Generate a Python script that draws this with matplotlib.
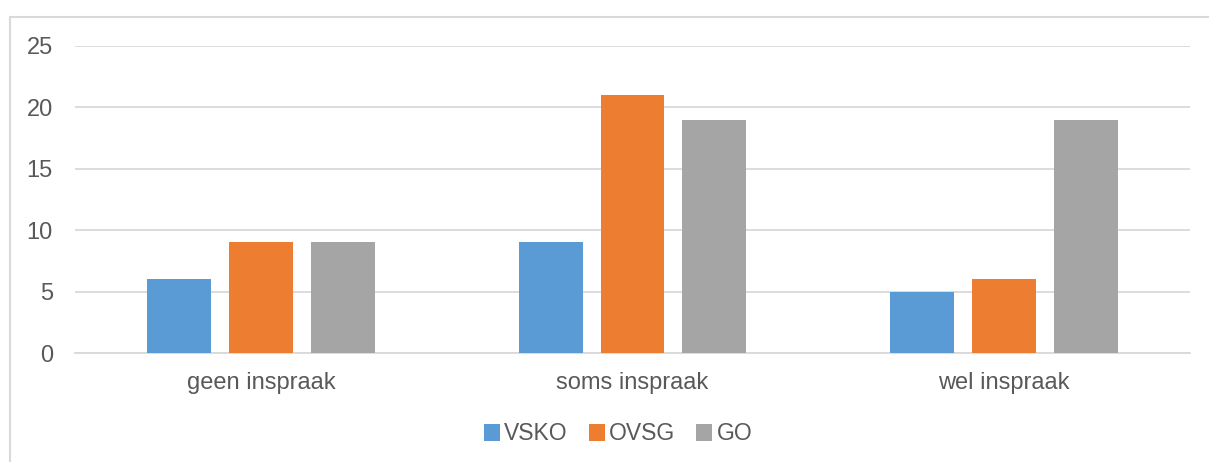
import matplotlib
matplotlib.use("Agg")
import matplotlib.pyplot as plt
import numpy as np
from matplotlib.patches import Rectangle

categories = ["geen inspraak", "soms inspraak", "wel inspraak"]
series_names = ["VSKO", "OVSG", "GO"]
vsko = [6, 9, 5]
ovsg = [9, 21, 6]
go = [9, 19, 19]
colors = ["#5B9BD5", "#ED7D31", "#A5A5A5"]

plt.rcParams['font.family'] = ['Liberation Sans', 'DejaVu Sans']
text_color = "#595959"

W, H = 1209, 462
fig = plt.figure(figsize=(W / 100, H / 100), dpi=100)
# chart border
fig.patches.append(Rectangle((10 / W, -0.2), 1.2, 1.2 - 16.5 / H, transform=fig.transFigure,
                             fill=False, edgecolor="#D9D9D9", linewidth=1.5, zorder=0))

ax = fig.add_axes([75 / W, 1 - 353 / H, (1190 - 75) / W, (353 - 46) / H])
x = np.arange(len(categories))
bw = 64 / 372
step = 82 / 372
for i, (name, vals) in enumerate(zip(series_names, [vsko, ovsg, go])):
    ax.bar(x + (i - 1) * step, vals, width=bw, color=colors[i], label=name, zorder=3)

ax.set_xlim(-0.5, 2.5)
ax.set_ylim(0, 25)
ax.set_yticks([0, 5, 10, 15, 20, 25])
ax.set_xticks(x)
ax.set_xticklabels(categories)
ax.grid(axis="y", color="#D9D9D9", linewidth=1.3, zorder=0)
for s in ["top", "right", "left"]:
    ax.spines[s].set_visible(False)
ax.spines["bottom"].set_color("#D9D9D9")
ax.spines["bottom"].set_linewidth(1.3)
ax.tick_params(axis="both", length=0, labelsize=17, labelcolor=text_color)
ax.tick_params(axis="y", pad=16)
ax.tick_params(axis="x", pad=14)

leg = fig.legend(loc="center", bbox_to_anchor=(618 / W, 1 - 434 / H), ncol=3, frameon=False,
                 fontsize=16.5, handlelength=0.7, handleheight=0.7, handletextpad=0.2,
                 columnspacing=0.9, labelcolor=text_color)

fig.savefig("out.png", dpi=100)
